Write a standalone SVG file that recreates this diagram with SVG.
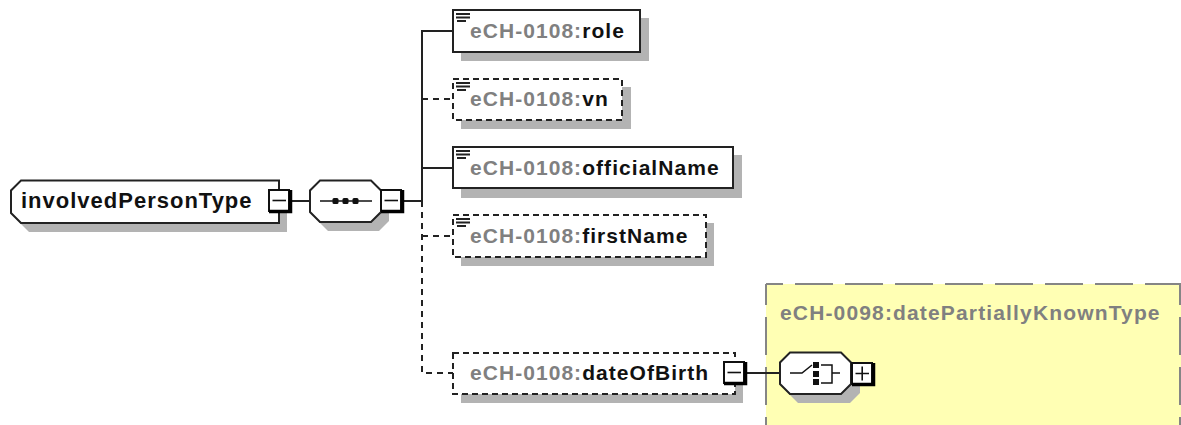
<svg xmlns="http://www.w3.org/2000/svg" width="1181" height="425" viewBox="0 0 1181 425">
<style>
.s{fill:#b3b3b3;stroke:none}
.b{fill:#fff;stroke:#222;stroke-width:2}
.d{fill:#fff;stroke:#222;stroke-width:2;stroke-dasharray:6 4}
.c{fill:none;stroke:#222;stroke-width:2}
.cd{fill:none;stroke:#222;stroke-width:2;stroke-dasharray:6 5}
.x{fill:#fff;stroke:#111;stroke-width:2}
.xs{fill:none;stroke:#000;stroke-width:3.5}
.k{fill:none;stroke:#111;stroke-width:1.6}
.y{fill:none;stroke:#858585;stroke-width:2;stroke-dasharray:38 12}
text{font-family:"Liberation Sans",Arial,sans-serif;font-weight:700;font-size:21px;letter-spacing:1.050px;fill:#111}
.g{fill:#808080}
</style>
<defs>
<g id="lines"><path d="M0 0H14M0 3.500H14M1 7H10" fill="none" stroke="#222" stroke-width="2"/></g>
<g id="minus"><rect class="x" x="0" y="0" width="20" height="21"/><path d="M21.500 0V21.500H0" class="xs"/><path d="M3.500 10.500H17" class="k"/></g>
<g id="plus"><rect class="x" x="0" y="0" width="20" height="21"/><path d="M21.500 0V21.500H0" class="xs"/><path d="M3.500 10.500H17M10.200 3.500V17.500" class="k"/></g>
</defs>
<g id="type-box">
<rect x="766" y="284" width="415" height="141" fill="#ffffb4"/>
<path class="y" stroke-dashoffset="21" d="M766 284H1181"/>
<path class="y" stroke-dashoffset="17" d="M766 284V425"/>
<path class="y" stroke-dashoffset="17" d="M1180 284V425"/>
<text class="g" x="780" y="320" style="letter-spacing:1.150px">eCH-0098:datePartiallyKnownType</text>
</g>
<g id="connectors">
<path class="c" d="M291 201H310M403 201H422M422 201V31H453M422 168H453"/>
<path class="cd" d="M422 201V373H453M422 99H453M422 236H453"/>
<path class="c" d="M746 373H781"/>
</g>
<g id="involvedPersonType">
<path class="s" d="M29 189H287V232H29L19 222Z"/>
<path class="b" d="M21 180.500H279V223H21L11 213V190.500Z"/>
<text x="21" y="208" style="font-size:22px;letter-spacing:1px">involvedPersonType</text>
<use href="#minus" x="269" y="190"/>
</g>
<g id="sequence">
<path class="s" d="M328 189H379L389 199V221L379 231H328L318 221Z"/>
<path class="b" d="M320 180.500H371L381 190.500V212L371 222H320L310 212V190.500Z"/>
<path d="M320 201H372" fill="none" stroke="#111" stroke-width="1.500"/>
<rect x="332.500" y="198" width="6" height="6" rx="1.500" fill="#111"/><rect x="342.500" y="198" width="6" height="6" rx="1.500" fill="#111"/><rect x="352.500" y="198" width="6" height="6" rx="1.500" fill="#111"/>
<use href="#minus" x="381" y="190"/>
</g>
<g id="role">
<rect class="s" x="461" y="18" width="188" height="43"/>
<rect class="b" x="453" y="10" width="187" height="42"/>
<use href="#lines" x="456" y="14"/>
<text x="470" y="38"><tspan class="g">eCH-0108:</tspan>role</text>
</g>
<g id="vn">
<rect class="s" x="461" y="87" width="170" height="42"/>
<rect class="d" x="453" y="79" width="169" height="41"/>
<use href="#lines" x="456" y="83"/>
<text x="470" y="106"><tspan class="g">eCH-0108:</tspan>vn</text>
</g>
<g id="officialName">
<rect class="s" x="461" y="155" width="281" height="43"/>
<rect class="b" x="453" y="147" width="280" height="41"/>
<use href="#lines" x="456" y="151"/>
<text x="470" y="175"><tspan class="g">eCH-0108:</tspan>officialName</text>
</g>
<g id="firstName">
<rect class="s" x="461" y="223" width="253" height="43"/>
<rect class="d" x="453" y="215" width="253" height="42"/>
<use href="#lines" x="456" y="219"/>
<text x="470" y="243"><tspan class="g">eCH-0108:</tspan>firstName</text>
</g>
<g id="dateOfBirth">
<rect class="s" x="461" y="361" width="282" height="42"/>
<rect class="d" x="453" y="353" width="282" height="41"/>
<text x="470" y="380"><tspan class="g">eCH-0108:</tspan>dateOfBirth</text>
<use href="#minus" x="724" y="362"/>
</g>
<g id="choice">
<path class="s" d="M798 361H850L860 371V393L850 403H798L788 393Z"/>
<path class="b" d="M790 352.500H841L851 362.500V384L841 394H790L780 384V362.500Z"/>
<path d="M790 373H802L812 365" fill="none" stroke="#111" stroke-width="1.500"/>
<rect x="813" y="362" width="6" height="6" fill="#111"/><rect x="813" y="371" width="6" height="6" fill="#111"/><rect x="813" y="379" width="6" height="6" fill="#111"/>
<path d="M821 365H832V383H821M832 373H840" fill="none" stroke="#111" stroke-width="1.500"/>
<use href="#plus" x="852" y="363"/>
</g>
</svg>
